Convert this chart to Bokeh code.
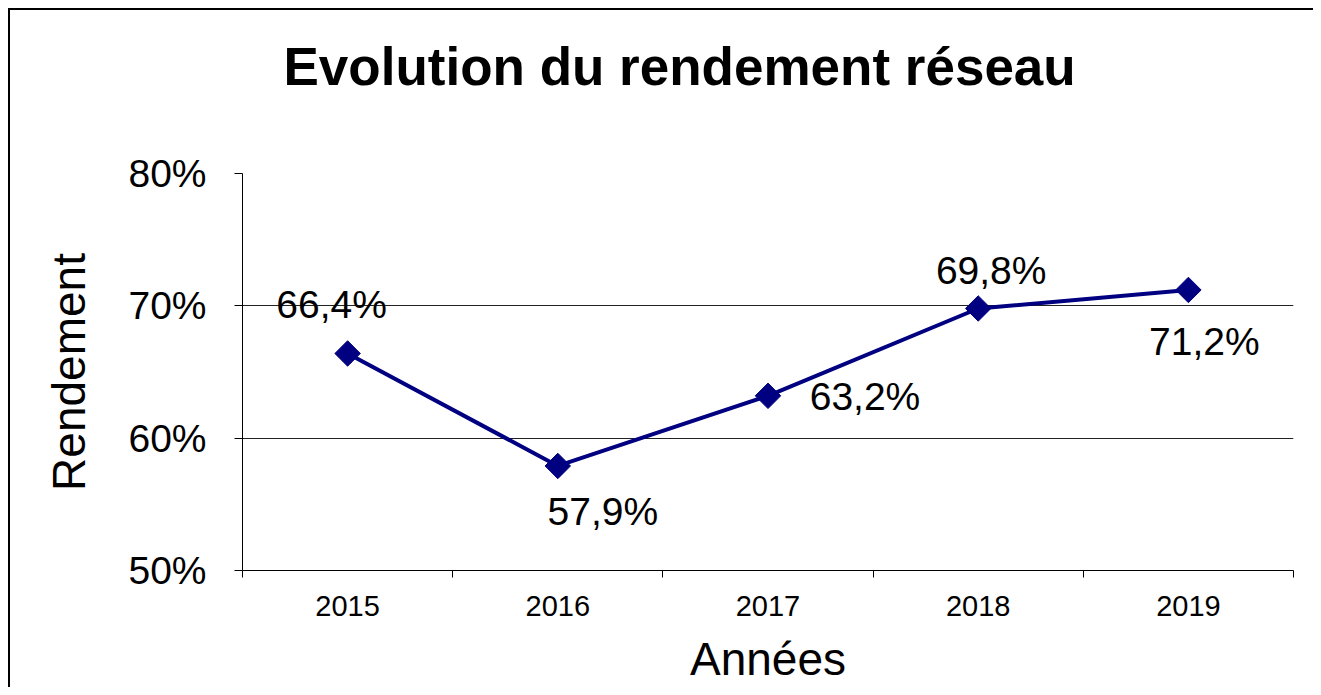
import math
from bokeh.plotting import figure
from bokeh.models import ColumnDataSource, Range1d, FixedTicker, NumeralTickFormatter, Title
from bokeh.core.properties import value
from bokeh.embed import file_html
from bokeh.resources import INLINE

# ---- data ----
years = [2015, 2016, 2017, 2018, 2019]
rendement = [0.664, 0.579, 0.632, 0.698, 0.712]
labels = ["66,4%", "57,9%", "63,2%", "69,8%", "71,2%"]
y_ticks = [0.5, 0.6, 0.7, 0.8]
grid_ticks = [0.6, 0.7]
title_text = "Evolution du rendement réseau"
x_title = "Années"
y_title = "Rendement"

# label placement (screen px offsets from each point)
label_dx = [-16, 45, 97, 13, 16]
label_dy = [-49, 46, 1, -38, 52]

FONT = "Liberation Sans"
NAVY = "#000080"

W, H = 1313, 687
bounds = [y - 0.5 for y in years] + [years[-1] + 0.5]

title = Title(text=title_text, text_font=FONT, text_font_size="53px", text_font_style="bold",
              align="left", offset=41, standoff=10, text_color="black")

# chart-area frame: top and left edges (right/bottom fall outside the picture)
frame_css = (f"linear-gradient(#000,#000) 8px 8px / 2px {H - 8}px no-repeat, "
             f"linear-gradient(#000,#000) 8px 8px / {W - 8}px 2px no-repeat, #ffffff")

p = figure(width=W, height=H, output_backend="svg", toolbar_location=None,
           title=title,
           x_range=Range1d(bounds[0], bounds[-1]), y_range=Range1d(y_ticks[0], y_ticks[-1]),
           min_border_left=242, min_border_right=20, min_border_top=173, min_border_bottom=116,
           background_fill_color="white", border_fill_color=None,
           styles={"background": frame_css})
p.outline_line_color = None

# spacer between the title and the plot area
p.add_layout(Title(text=" ", text_font_size="1px", standoff=70), "above")

# x axis
xa = p.xaxis[0]
xa.ticker = FixedTicker(ticks=years, minor_ticks=bounds)
xa.major_tick_out = 0
xa.major_tick_in = 0
xa.minor_tick_out = 7
xa.minor_tick_in = 0
xa.major_label_text_font = FONT
xa.major_label_text_font_size = "29px"
xa.major_label_text_color = "black"
xa.major_label_standoff = 18
xa.axis_line_color = "black"
xa.minor_tick_line_color = "black"
xa.axis_label = x_title
xa.axis_label_text_font = FONT
xa.axis_label_text_font_size = "46px"
xa.axis_label_text_font_style = "normal"
xa.axis_label_text_color = "black"
xa.axis_label_standoff = 14

# y axis
ya = p.yaxis[0]
ya.ticker = FixedTicker(ticks=y_ticks, minor_ticks=[])
ya.formatter = NumeralTickFormatter(format="0%")
ya.major_tick_out = 8
ya.major_tick_in = 0
ya.major_label_text_font = FONT
ya.major_label_text_font_size = "39px"
ya.major_label_text_color = "black"
ya.major_label_standoff = 28
ya.axis_line_color = "black"
ya.major_tick_line_color = "black"
ya.axis_label = y_title
ya.axis_label_text_font = FONT
ya.axis_label_text_font_size = "46px"
ya.axis_label_text_font_style = "normal"
ya.axis_label_text_color = "black"
ya.axis_label_standoff = 30

# grid
p.xgrid.grid_line_color = None
p.ygrid.ticker = FixedTicker(ticks=grid_ticks, minor_ticks=[])
p.ygrid.grid_line_color = "#222222"
p.ygrid.grid_line_width = 1

src = ColumnDataSource(dict(x=years, y=rendement, lab=labels, dx=label_dx, dy=label_dy))
p.line("x", "y", source=src, line_color=NAVY, line_width=4)
p.scatter("x", "y", source=src, marker="square", size=18, angle=math.pi / 4,
          fill_color=NAVY, line_color=NAVY)
p.text("x", "y", text="lab", source=src, x_offset="dx", y_offset="dy",
       text_align="center", text_baseline="middle", text_font=value(FONT),
       text_font_size="39px", text_color="black")

open("out.html", "w").write(file_html(p, INLINE))
